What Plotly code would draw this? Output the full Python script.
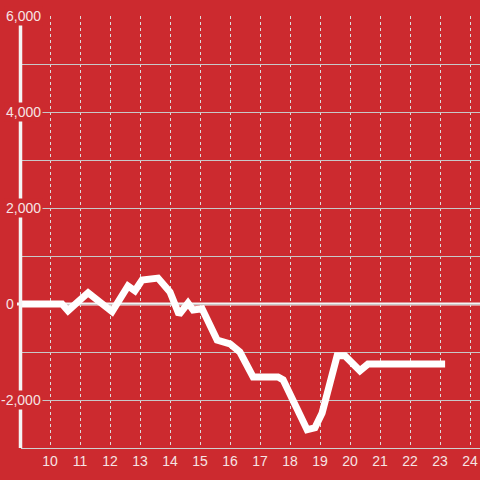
import plotly.graph_objects as go

x_vals = [9.0, 10.4, 10.6, 11.27, 12.07, 12.6, 12.83, 13.07, 13.6, 14.0, 14.3, 14.6, 14.77, 15.07,
          15.57, 16.0, 16.33, 16.77, 17.6, 17.77, 18.57, 18.83, 19.07, 19.57, 19.83, 20.33, 20.6, 23.17]
y_vals = [0, 0, -140, 235, -160, 375, 275, 500, 540, 250, -220, 20, -125, -100,
          -750, -830, -1000, -1520, -1520, -1580, -2620, -2580, -2270, -1080, -1080, -1390, -1250, -1250]

x_ticks = list(range(10, 25))
y_label_vals = [6000, 4000, 2000, 0, -2000]
y_label_text = ["6,000", "4,000", "2,000", "0", "-2,000"]

RED = "#cc2a2f"
TXT = "#f6e4e4"
FONT = "Liberation Sans, Arial, sans-serif"

fig = go.Figure()
fig.add_trace(go.Scatter(x=x_vals, y=y_vals, mode="lines",
                         line=dict(color="white", width=7), hoverinfo="skip"))

annotations = []
for v, t in zip(y_label_vals, y_label_text):
    if v == 0:
        annotations.append(dict(x=0, xref="paper", y=v, yref="y", text=t, showarrow=False,
                                xanchor="right", yanchor="middle", xshift=-5,
                                font=dict(size=14, color=TXT, family=FONT)))
    else:
        annotations.append(dict(x=0, xref="paper", y=v, yref="y", text=t, showarrow=False,
                                xanchor="right", yanchor="middle", xshift=22,
                                bgcolor=RED, borderpad=1,
                                font=dict(size=14, color=TXT, family=FONT)))

fig.update_layout(
    width=480, height=480,
    margin=dict(l=21, r=0, t=16, b=32, autoexpand=False),
    paper_bgcolor=RED, plot_bgcolor=RED,
    showlegend=False,
    font=dict(family=FONT, size=14, color=TXT),
    xaxis=dict(range=[9.033, 24.333], tickvals=x_ticks, showgrid=True, automargin=False,
               gridcolor="#dcdcdc", griddash="dot", gridwidth=1,
               showline=True, linecolor="#d0d0d0", linewidth=1,
               zeroline=False, ticks="", tickfont=dict(size=14, color=TXT)),
    yaxis=dict(range=[-3000, 6000], dtick=1000, showticklabels=False, automargin=False,
               showgrid=True, gridcolor="#c8c8c8", gridwidth=1, zeroline=False),
    shapes=[
        dict(type="line", xref="paper", yref="y", x0=-0.5 / 459, x1=-0.5 / 459,
             y0=-3000, y1=6000, line=dict(color="#f4f4f4", width=3.5), layer="above"),
        dict(type="line", xref="paper", yref="y", x0=-4 / 459, x1=1, y0=0, y1=0,
             line=dict(color="#f4f4f4", width=3), layer="below"),
    ],
    annotations=annotations,
)

fig.write_html("out.html", config={"displayModeBar": False},
               post_script="document.body.style.margin='0';document.body.style.overflow='hidden';")
